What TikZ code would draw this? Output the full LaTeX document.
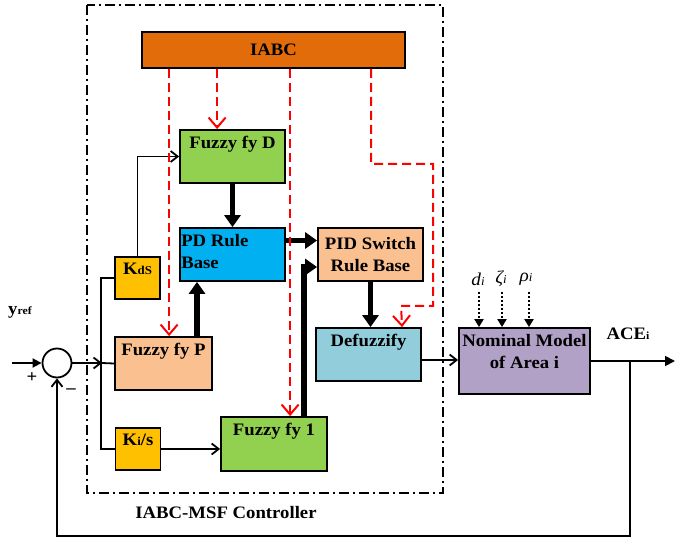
\documentclass[tikz,border=0pt]{standalone}
\usepackage{fontspec}
\setmainfont{Liberation Serif}[BoldFeatures={FakeStretch=1.07},ItalicFeatures={FakeStretch=1.07}]
\usetikzlibrary{arrows.meta,positioning,calc}

\definecolor{iabcorange}{RGB}{227,108,10}
\definecolor{fzgreen}{RGB}{146,208,80}
\definecolor{pdblue}{RGB}{0,176,240}
\definecolor{peach}{RGB}{250,192,144}
\definecolor{gainyellow}{RGB}{255,192,0}
\definecolor{defblue}{RGB}{146,205,220}
\definecolor{nmpurple}{RGB}{178,161,199}

\begin{document}
\begin{tikzpicture}[x=1pt,y=-1pt,
		font=\fontsize{17.5}{22}\selectfont\bfseries,
		block node/.style={draw,line width=1.8pt,inner sep=0pt,minimum width=105pt,minimum height=53pt},
		gain node/.style={block node,fill=gainyellow,minimum width=45pt,minimum height=42pt},
		top label/.style={anchor=north,inner sep=0pt,yshift=-7pt,align=center},
		thin arrow/.style={line width=1.8pt,-{Straight Barb[length=7pt,width=11pt]}},
		thick arrow/.style={line width=5.5pt,-{Triangle[length=12pt,width=16pt]}},
		red link/.style={red,line width=2pt,dash pattern=on 9pt off 5pt,-{Straight Barb[length=10pt,width=17pt]}},
		dotted arrow/.style={line width=2pt,dash pattern=on 2pt off 2pt,-{Triangle[length=8pt,width=9pt]}},
		side text/.style={font=\fontsize{18}{20}\selectfont\itshape}]
	\useasboundingbox (0,0) rectangle (675,543);
	%
	% Controller frame.
	\draw[line width=1.8pt,dash pattern=on 10pt off 4pt on 2pt off 4pt] (87,5) rectangle (443,493);
	\node (ctl) at (226,513) {IABC-MSF Controller};
	%
	% Blocks.
	\node[block node,fill=iabcorange,minimum width=263pt,minimum height=36pt] (iabc) at (273.5,50) {IABC};
	\node[block node,fill=fzgreen,label={[top label]north:Fuzzy fy D}] (fd) at (232.5,156.5) {};
	\node[block node,fill=pdblue,label={[top label,anchor=north west,align=left,xshift=2pt]north west:PD Rule\\Base}] (pd) at (232.5,254.5) {};
	\node[block node,fill=peach,align=center] (pid) at (370.5,254.5) {PID Switch\\Rule Base};
	\node[gain node,label={[top label]north:K{\fontsize{12}{13}\selectfont dS}}] (kd) at (137.5,278) {};
	\node[block node,fill=peach,minimum width=97pt,label={[top label]north:Fuzzy fy P}] (fp) at (163.5,363.5) {};
	\node[block node,fill=defblue,label={[top label]north:Defuzzify}] (df) at (368.5,354.5) {};
	\node[gain node,label={[top label]north:K{\fontsize{12}{13}\selectfont i}/s}] (ki) at (138,449) {};
	\node[block node,fill=fzgreen,minimum width=106pt,minimum height=54pt,label={[top label]north:Fuzzy fy 1}] (ff1) at (274,444) {};
	\node[block node,fill=nmpurple,minimum width=131pt,minimum height=66pt,label={[top label]north:Nominal Model\\of Area i}] (nm) at (524.5,361) {};
	\node[circle,draw,line width=1.8pt,minimum size=29pt,inner sep=0pt] (sum) at (57,363) {};
	%
	% Signal names.
	\node (yref) at (20,312) {y{\fontsize{11}{12}\selectfont ref}};
	\node (plus) at (32,378) {+};
	\node (minus) at (71,391) {--};
	\node (ace) at (628,334) {ACE{\fontsize{11}{12}\selectfont i}};
	\node[side text] (dl) at (478,279) {d{\fontsize{12}{13}\selectfont i}};
	\node[side text] (zl) at (501,279) {ζ{\fontsize{12}{13}\selectfont i}};
	\node[side text] (rl) at (526,279) {ρ{\fontsize{12}{13}\selectfont i}};
	\coordinate (in) at (12,363);
	\coordinate (br) at (102,363);
	\coordinate (tap) at (630,361);
	\coordinate (fb) at (630,536);
	\coordinate (out) at (675,361);
	\coordinate (d1) at (479,292);
	\coordinate (d2) at (502,292);
	\coordinate (d3) at (529,292);
	%
	% Thin signal lines.
	\draw[line width=1.8pt,-{Triangle[length=9pt,width=9pt]}] (in) -- (sum.west);
	\draw[thin arrow] (sum.east) -- (br);
	\draw[line width=1.8pt] (br) -- (fp.west);
	\draw[line width=1.8pt] (kd.west) -- ++(-13,0) |- (ki.west);
	\draw[thin arrow] (kd.north) |- (fd.west);
	\draw[thin arrow] (ki.east) -- (ki.east -| ff1.west);
	\draw[thin arrow] ([yshift=-5.5pt]df.east) -- ([yshift=-5.5pt]df.east -| nm.west);
	\draw[line width=1.8pt,-{Triangle[length=10pt,width=10pt]}] (nm.east) -- (out);
	\draw[thin arrow] (tap) -- (fb) -| (sum.south);
	%
	% Thick lines between the fuzzy blocks.
	\draw[thick arrow] (fd.south) -- (pd.north);
	\draw[thick arrow] ([xshift=33.5pt]fp.north) -- ([xshift=33.5pt]fp.north |- pd.south);
	\draw[thick arrow] ([yshift=14pt]pd.east) -- ([yshift=14pt]pid.west);
	\draw[thick arrow] ([xshift=30pt]ff1.north) |- ([yshift=-12.5pt]pid.west);
	\draw[thick arrow] (pid.south) -- (pid.south |- df.north);
	%
	% Dashed red lines from IABC.
	\draw[red link] ([xshift=28pt]iabc.south west) -- ([xshift=28pt]iabc.south west |- fp.north);
	\draw[red link] ([xshift=76pt]iabc.south west) -- ([xshift=76pt]iabc.south west |- fd.north);
	\draw[red link] ([xshift=149pt]iabc.south west) -- ([xshift=149pt]iabc.south west |- ff1.north);
	\draw[red link] ([xshift=230pt]iabc.south west) -- ++(0,95) -- ++(62,0) -- ++(0,142) -- ++(-32,0) -- ([xshift=33.5pt]df.north);
	%
	% Dotted disturbance inputs.
	\draw[dotted arrow] (d1) -- (d1 |- nm.north);
	\draw[dotted arrow] (d2) -- (d2 |- nm.north);
	\draw[dotted arrow] (d3) -- (d3 |- nm.north);
\end{tikzpicture}
\end{document}
